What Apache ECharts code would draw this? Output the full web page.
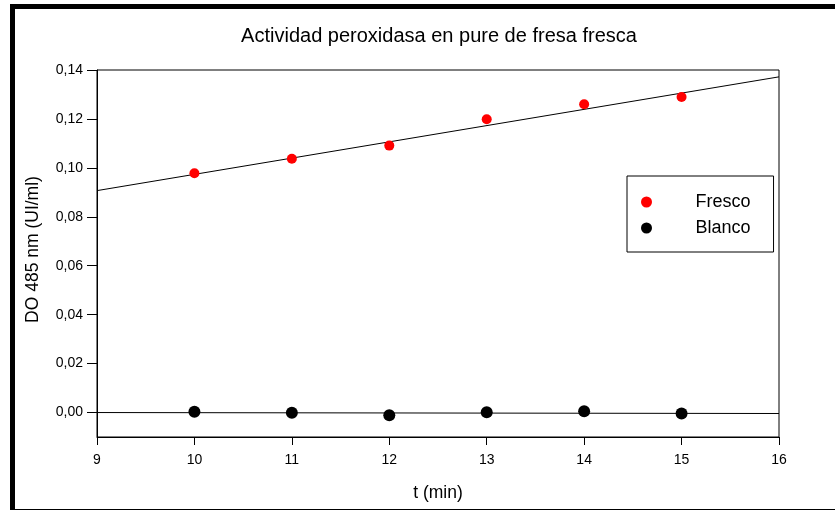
<!DOCTYPE html>
<html>
<head>
<meta charset="utf-8">
<script src="https://cdn.jsdelivr.net/npm/echarts@6/dist/echarts.min.js"></script>
<style>html,body{margin:0;padding:0;background:#fff;}#c{width:835px;height:511px;}</style>
</head>
<body>
<div id="c"></div>
<script>
// Data
const tMin = [10, 11, 12, 13, 14, 15];
const fresco = [0.0978, 0.1037, 0.1091, 0.1199, 0.1260, 0.1290];
const blanco = [0.0003, -0.0001, -0.0011, 0.0001, 0.0005, -0.0004];
const frescoFitX = [9, 16];
const frescoFitY = [0.0907, 0.1372];
const blancoFitX = [9, 16];
const blancoFitY = [0.0000, -0.0004];
const xTicks = [9, 10, 11, 12, 13, 14, 15, 16];
const yTicks = [0, 0.02, 0.04, 0.06, 0.08, 0.10, 0.12, 0.14];

const FONT = "'Liberation Sans', Arial, sans-serif";
const pair = (xs, ys) => xs.map((x, i) => [x, ys[i]]);

const chart = echarts.init(document.getElementById('c'), null, {renderer: 'canvas'});
chart.setOption({
  animation: false,
  backgroundColor: '#fff',
  title: {
    text: 'Actividad peroxidasa en pure de fresa fresca',
    left: 434, top: 21, textAlign: 'center',
    textStyle: {fontFamily: FONT, fontSize: 20, fontWeight: 'normal', color: '#000'}
  },
  grid: {left: 97, right: 56, top: 70, bottom: 74, show: true, borderColor: '#000', borderWidth: 1, backgroundColor: 'transparent'},
  legend: {
    orient: 'vertical', left: 627, top: 176,
    data: [{name: 'Fresco', icon: 'circle'}, {name: 'Blanco', icon: 'circle'}],
    itemWidth: 40, itemHeight: 11, itemGap: 8,
    padding: [17, 23, 15, 14],
    borderColor: '#000', borderWidth: 1,
    itemStyle: {opacity: 1},
    textStyle: {fontFamily: FONT, fontSize: 18, color: '#000', padding: [0, 0, 0, 24]}
  },
  xAxis: {
    type: 'value', min: 9, max: 16, interval: 1,
    name: 't (min)', nameLocation: 'middle', nameGap: 47,
    nameTextStyle: {fontFamily: FONT, fontSize: 17.5, color: '#000'},
    axisLine: {show: true, onZero: false, lineStyle: {color: '#000', width: 1}},
    axisTick: {show: true, inside: false, length: 8, lineStyle: {color: '#000'}},
    axisLabel: {fontFamily: FONT, fontSize: 14, color: '#000', margin: 16},
    splitLine: {show: false}
  },
  yAxis: {
    type: 'value', min: -0.01, max: 0.14,
    name: 'DO 485 nm (UI/ml)', nameLocation: 'middle', nameGap: 55, nameRotate: 90,
    nameTextStyle: {fontFamily: FONT, fontSize: 17.5, color: '#000', padding: [0, 0, 0, 8]},
    axisLine: {show: true, onZero: false, lineStyle: {color: '#000', width: 1}},
    axisTick: {show: true, inside: false, length: 10, customValues: yTicks, lineStyle: {color: '#000'}},
    axisLabel: {fontFamily: FONT, fontSize: 14, color: '#000', margin: 14, customValues: yTicks,
      formatter: v => v.toFixed(2).replace('.', ',')},
    splitLine: {show: false}
  },
  graphic: [
    {type: 'rect', shape: {x: 10, y: 4, width: 825, height: 5}, style: {fill: '#000'}, silent: true},
    {type: 'rect', shape: {x: 10, y: 4, width: 5, height: 506}, style: {fill: '#000'}, silent: true},
    {type: 'rect', shape: {x: 10, y: 509, width: 825, height: 1}, style: {fill: '#000'}, silent: true}
  ],
  series: [
    {name: 'FrescoFit', type: 'line', data: pair(frescoFitX, frescoFitY), showSymbol: false, symbol: 'none',
      lineStyle: {color: '#000', width: 1}, z: 2},
    {name: 'BlancoFit', type: 'line', data: pair(blancoFitX, blancoFitY), showSymbol: false, symbol: 'none',
      lineStyle: {color: '#000', width: 1}, z: 2},
    {name: 'Fresco', type: 'scatter', data: pair(tMin, fresco), symbol: 'circle', symbolSize: 10,
      itemStyle: {color: '#ff0000', opacity: 1}, z: 3},
    {name: 'Blanco', type: 'scatter', data: pair(tMin, blanco), symbol: 'circle', symbolSize: 12,
      itemStyle: {color: '#000', opacity: 1}, z: 3}
  ]
});
</script>
</body>
</html>
